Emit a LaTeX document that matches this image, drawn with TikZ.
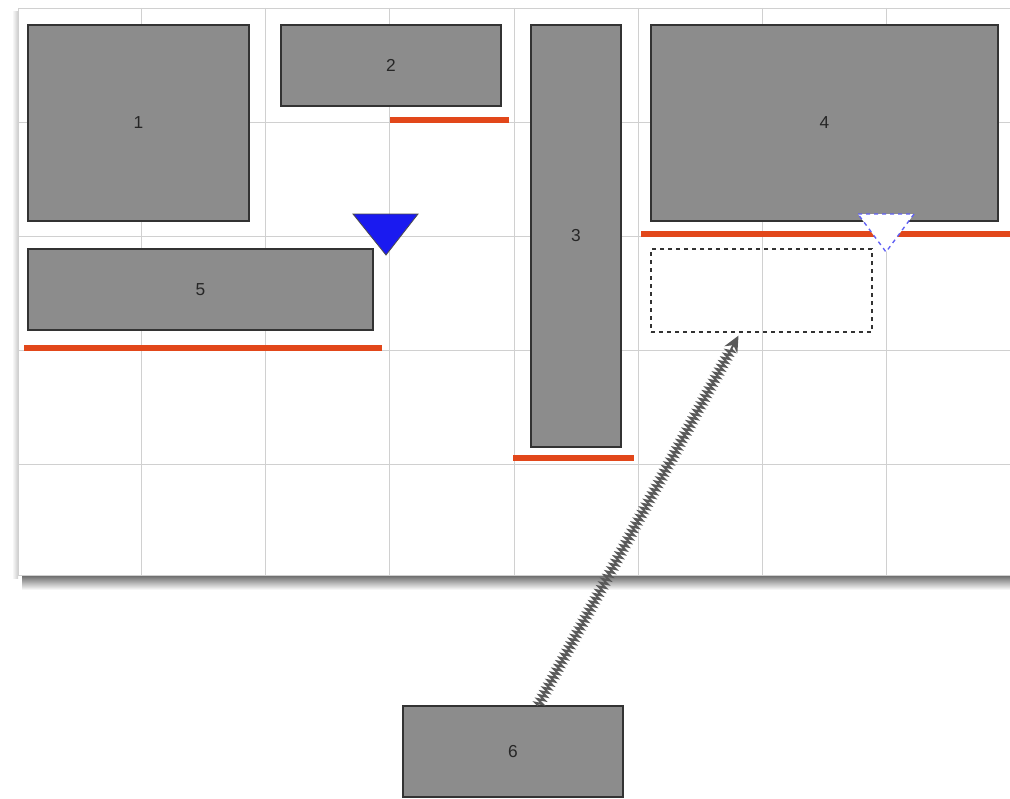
\documentclass[tikz,border=0pt]{standalone}
\usepackage{fontspec}
\setmainfont{Liberation Sans}
\usetikzlibrary{decorations.pathmorphing,arrows.meta,calc}
\definecolor{boxgray}{HTML}{8C8C8C}
\definecolor{edge}{HTML}{333333}
\definecolor{gridc}{HTML}{D0D0D0}
\definecolor{orangeline}{HTML}{E2471A}
\definecolor{tri}{HTML}{1A1AF0}
\tikzset{
  blk/.style={draw=edge, line width=1pt, fill=boxgray, font=\fontsize{13}{15}\selectfont, text=black!85, inner sep=0pt},
  bar/.style={draw=orangeline, line width=3.8pt},
  gl/.style={draw=gridc, line width=0.6pt},
}
\begin{document}
\begin{tikzpicture}[x=0.75pt,y=-0.75pt]
\useasboundingbox (0,0) rectangle (1010,799);
% shadow of canvas
\shade[top color=black!60, bottom color=white] (22,575) rectangle (1010,590);
\shade[left color=white, right color=black!20] (12,12) rectangle (18,578);
% canvas
\fill[white] (18,8) rectangle (1010,575);
% grid
\foreach \x in {141,265,389,514,638,762,886} \draw[gl] (\x,8) -- (\x,575);
\foreach \y in {122,236,350,464} \draw[gl] (18,\y) -- (1010,\y);
\draw[gl] (18,8) rectangle (1010,575);
% boxes
\node[blk, minimum width=221*0.75pt, minimum height=196*0.75pt] (b1) at (138.5,123) {1};
\node[blk, minimum width=220*0.75pt, minimum height=81*0.75pt] (b2) at (391,65.5) {2};
\node[blk, minimum width=90*0.75pt, minimum height=422*0.75pt] (b3) at (576,236) {3};
\node[blk, minimum width=347*0.75pt, minimum height=196*0.75pt] (b4) at (824.5,123) {4};
\node[blk, minimum width=345*0.75pt, minimum height=81*0.75pt] (b5) at (200.5,289.5) {5};
\node[blk, minimum width=220*0.75pt, minimum height=91*0.75pt] (b6) at (513,751.5) {6};
% dashed target box
\node[draw=black!80, dashed, line width=1pt, minimum width=221*0.75pt, minimum height=83*0.75pt, inner sep=0pt] (t) at (761.5,290.5) {};
% orange bars
\draw[bar] (390,120) -- (509,120);
\draw[bar] (24,348) -- (382,348);
\draw[bar] (513,458) -- (634,458);
\draw[bar] (641,234) -- (1010,234);
% triangles
\filldraw[fill=tri, draw=black!70, line width=0.6pt] (353,214) -- (418,214) -- (386,255) -- cycle;
\filldraw[fill=white, draw=tri!70, dashed, line width=1pt] (858,214) -- (914,214) -- (886,252) -- cycle;
% moving arrow
\coordinate (as) at ($(b6.north)+(25,0)$);
\coordinate (ae) at ($(t.south)+(-23,3)$);
\draw[black!65, line width=1.5pt, decorate, decoration={zigzag, amplitude=2.6pt, segment length=3.2pt, post length=10pt}, -{Stealth[length=12pt,width=11pt]}] (as) -- (ae);
\end{tikzpicture}
\end{document}
